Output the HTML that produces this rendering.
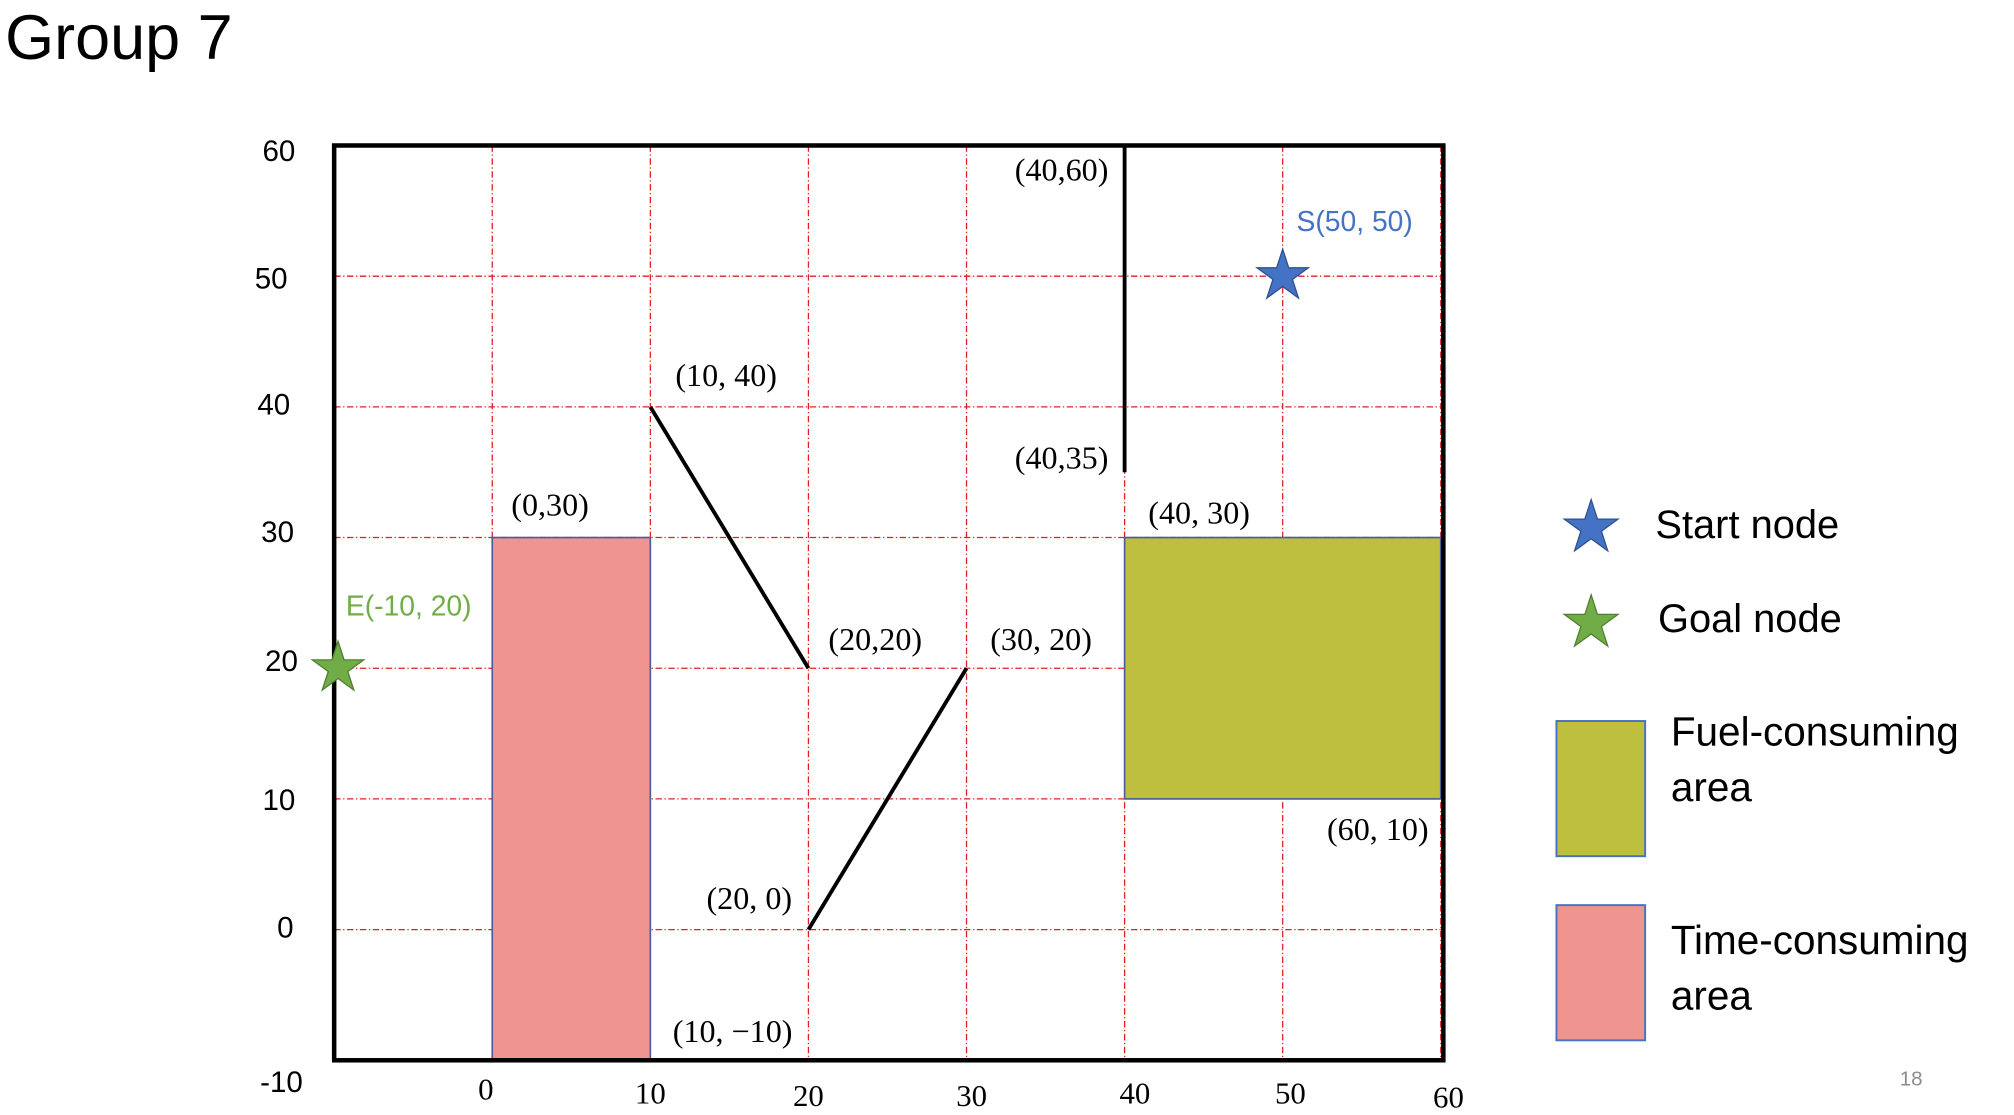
<!DOCTYPE html>
<html><head><meta charset="utf-8"><style>
html,body{margin:0;padding:0;background:#fff;}
svg{display:block;}
</style></head><body>
<svg id="chart" width="2014" height="1115" viewBox="0 0 1567 866" preserveAspectRatio="none" xmlns="http://www.w3.org/2000/svg">
<text x="4" y="46" font-family="Liberation Sans, sans-serif" font-size="49">Group 7</text>
<g id="grid"></g>
<g id="areas"></g>
<g id="walls"></g>
<g id="frame"></g>
<g id="ticks"></g>
<g id="notes"></g>
<g id="stars"></g>
<g id="legend">
  <path d="" id="lgS" fill="#4472C4" stroke="#2F528F"/>
  <text x="1288" y="418" font-family="Liberation Sans, sans-serif" font-size="31">Start node</text>
  <path d="" id="lgG" fill="#70AD47" stroke="#507E32"/>
  <text x="1290" y="491" font-family="Liberation Sans, sans-serif" font-size="31">Goal node</text>
  <rect x="1211" y="560" width="69" height="105" fill="#BFBF3F" stroke="#4472C4" stroke-width="1.5"/>
  <text x="1300" y="579" font-family="Liberation Sans, sans-serif" font-size="31.5">Fuel-consuming</text>
  <text x="1300" y="622" font-family="Liberation Sans, sans-serif" font-size="31.5">area</text>
  <rect x="1211" y="703" width="69" height="105" fill="#F09490" stroke="#4472C4" stroke-width="1.5"/>
  <text x="1300" y="741" font-family="Liberation Sans, sans-serif" font-size="31.5">Time-consuming</text>
  <text x="1300" y="784" font-family="Liberation Sans, sans-serif" font-size="31.5">area</text>
</g>
<text x="1487" y="843" text-anchor="middle" font-family="Liberation Sans, sans-serif" font-size="16" fill="#8c8c8c">18</text>
</svg>
<script>
const xTicks = [-10, 0, 10, 20, 30, 40, 50, 60];
const yTicks = [-10, 0, 10, 20, 30, 40, 50, 60];
const xTickLabels = ["0", "10", "20", "30", "40", "50", "60"];
const yTickLabels = ["-10", "0", "10", "20", "30", "40", "50", "60"];
const timeArea = [0, -10, 10, 30];   // x0,y0,x1,y1
const fuelArea = [40, 10, 60, 30];
const wallStarts = [[10, 40], [20, 0], [40, 60]];
const wallEnds = [[20, 20], [30, 20], [40, 35]];
const startNode = [50, 50];
const goalNode = [-10, 20];
const noteTexts = ["(40,60)", "S(50, 50)", "(10, 40)", "(40,35)", "(0,30)", "(40, 30)", "E(-10, 20)", "(20,20)", "(30, 20)", "(60, 10)", "(20, 0)", "(10, \u221210)"];
const notePoints = [[40,60],[50,50],[10,40],[40,35],[0,30],[40,30],[-10,20],[20,20],[30,20],[60,10],[20,0],[10,-10]];

const X = v => 383 + v * 12.3;
const Y = v => 722 - v * 10.15;
const NS = "http://www.w3.org/2000/svg";
function mk(tag, parent, attrs) {
  const e = document.createElementNS(NS, tag);
  for (const k in attrs) e.setAttribute(k, attrs[k]);
  document.getElementById(parent).appendChild(e);
  return e;
}
// grid
xTicks.forEach(v => {
  const l = mk('line', 'grid', {x1: X(v), x2: X(v), y1: Y(60), y2: Y(-10), stroke: '#E02020', 'stroke-width': 1, 'stroke-dasharray': '5 2 1 2'});
  
  
});
yTicks.forEach(v => {
  const l = mk('line', 'grid', {x1: X(-10), x2: X(60), y1: Y(v), y2: Y(v), stroke: '#E02020', 'stroke-width': 1, 'stroke-dasharray': '5 2 1 2'});
  
  
});
// areas
function rect(a, fill, name) {
  const r = mk('rect', 'areas', {x: X(a[0]), y: Y(a[3]), width: X(a[2]) - X(a[0]), height: Y(a[1]) - Y(a[3]), fill: fill, stroke: '#4a5f9a', 'stroke-width': 1.3});
  
  
}
rect(timeArea, '#F09490', 'time-consuming-area');
rect(fuelArea, '#BFBF3F', 'fuel-consuming-area');
// walls
wallStarts.forEach((s, i) => {
  const e = wallEnds[i];
  const l = mk('line', 'walls', {x1: X(s[0]), y1: Y(s[1]), x2: X(e[0]), y2: Y(e[1]), stroke: '#000', 'stroke-width': 3});
  
  
});
// frame
const fr = mk('rect', 'frame', {x: X(-10), y: Y(60), width: X(60) - X(-10) + 2, height: Y(-10) - Y(60), fill: 'none', stroke: '#000', 'stroke-width': 3.5});


// tick labels
const xOff = [[-5, 854], [0, 857], [0, 859], [4, 859], [8, 857], [6, 857], [6, 860]];
xTickLabels.forEach((t, i) => {
  const v = xTicks[i + 1];
  const tx = mk('text', 'ticks', {x: X(v) + xOff[i][0], y: xOff[i][1], 'text-anchor': 'middle', 'font-family': 'Liberation Serif, serif', 'font-size': 24});
  tx.textContent = t;
  
  
});
const yPos = [[219, 848], [222, 728], [217, 629], [219, 521], [216, 421], [213, 322], [211, 224], [217, 125]];
yTickLabels.forEach((t, i) => {
  const tx = mk('text', 'ticks', {x: yPos[i][0], y: yPos[i][1], 'text-anchor': 'middle', 'font-family': 'Liberation Sans, sans-serif', 'font-size': 23});
  tx.textContent = t;
  
  
});
// annotations
const noteOff = [[-49, 19], [56, -43], [59, -24], [-49, -11], [45, -25], [58, -19], [58, -49], [52, -22], [58, -22], [-49, 24], [-46, -24], [64, -22]];
notePoints.forEach((p, i) => {
  const isS = i === 1, isE = i === 6;
  const tx = mk('text', 'notes', {x: X(p[0]) + noteOff[i][0], y: Y(p[1]) + noteOff[i][1] + 8, 'text-anchor': 'middle',
    'font-family': (isS || isE) ? 'Liberation Sans, sans-serif' : 'Liberation Serif, serif',
    'font-size': (isS || isE) ? 22 : 25, fill: isS ? '#4472C4' : isE ? '#70AD47' : '#000'});
  tx.textContent = noteTexts[i];
  
  
});
// stars
function starPath(cx, cy, R) {
  const r = R * 0.38; let d = '';
  for (let k = 0; k < 10; k++) {
    const a = -Math.PI / 2 + k * Math.PI / 5, rr = k % 2 ? r : R;
    d += (k ? 'L' : 'M') + (cx + rr * Math.cos(a)).toFixed(1) + ' ' + (cy + rr * Math.sin(a)).toFixed(1);
  }
  return d + 'Z';
}
const s1 = mk('path', 'stars', {d: starPath(X(startNode[0]), Y(startNode[1]), 21), fill: '#4472C4', stroke: '#2F528F'});


const s2 = mk('path', 'stars', {d: starPath(X(goalNode[0]) + 3, Y(goalNode[1]), 21), fill: '#70AD47', stroke: '#507E32'});


document.getElementById('lgS').setAttribute('d', starPath(1238, 410, 22));
document.getElementById('lgG').setAttribute('d', starPath(1238, 484, 22));
</script>
</body></html>
